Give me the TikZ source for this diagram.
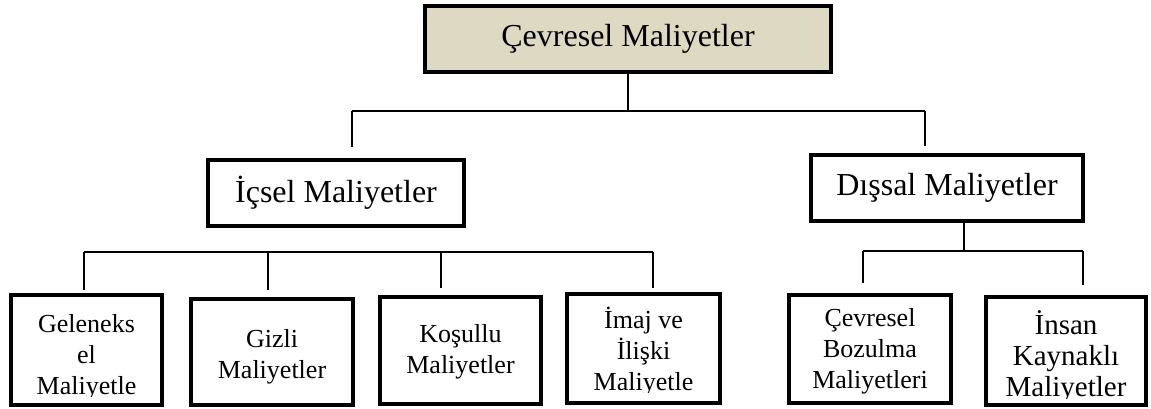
\documentclass[tikz,border=0pt]{standalone}
\usepackage{fontspec}
\setmainfont{Liberation Serif}
\newlength{\du}
\setlength{\du}{1pt}
\definecolor{boxtan}{RGB}{221,217,195}
\tikzset{
  costbox/.style={draw=black, line width=4\du, inner sep=0pt, align=center},
  costtext/.style={inner sep=0pt, align=center, font=\fontsize{26}{31}\selectfont},
  conn/.style={draw=black, line width=1.8\du},
}

\begin{document}
\begin{tikzpicture}
\pgftransformyscale{-1.000000}
\useasboundingbox (0\du,0\du) rectangle (1151\du,409\du);
% top level
\node[costbox, fill=boxtan, minimum width=406\du, minimum height=66\du, font=\fontsize{32}{38}\selectfont] (cevre) at (628\du,39\du){Çevresel Maliyetler};
\node[costbox, fill=white, minimum width=256\du, minimum height=66\du, font=\fontsize{32}{38}\selectfont] (icsel) at (336\du,193\du){İçsel Maliyetler};
\node[costbox, fill=white, minimum width=272\du, minimum height=66\du, font=\fontsize{32}{38}\selectfont] (dis) at (947\du,188\du){Dışsal Maliyetler};
% bottom frames
\node[costbox, minimum width=151\du, minimum height=110\du] (gel) at (86.5\du,350\du){};
\node[costbox, minimum width=162\du, minimum height=106\du] (giz) at (272\du,352\du){};
\node[costbox, minimum width=161\du, minimum height=107\du] (kos) at (460.5\du,350.5\du){};
\node[costbox, minimum width=153\du, minimum height=109\du] (imaj) at (643.5\du,348.5\du){};
\node[costbox, minimum width=162\du, minimum height=108\du] (bozul) at (870\du,349\du){};
\node[costbox, minimum width=160\du, minimum height=108\du] (insan) at (1066\du,351\du){};
% bottom texts
\begin{scope}
\clip (13\du,297\du) rectangle (160\du,396\du);
\node[costtext] (geltext) at (86.5\du,357\du){Geleneks\\el\\Maliyetle};
\end{scope}
\node[costtext] (giztext) at (272\du,357\du){Gizli\\Maliyetler};
\node[costtext] (kostext) at (460.5\du,352\du){Koşullu\\Maliyetler};
\begin{scope}
\clip (569\du,296\du) rectangle (718\du,392\du);
\node[costtext] (imajtext) at (643.5\du,351.5\du){İmaj ve\\İlişki\\Maliyetle};
\end{scope}
\node[costtext] (bozultext) at (870\du,351\du){Çevresel\\Bozulma\\Maliyetleri};
\begin{scope}
\clip (988\du,299\du) rectangle (1144\du,398\du);
\node[costtext, font=\fontsize{29}{31}\selectfont] (insantext) at (1066\du,357\du){İnsan\\Kaynaklı\\Maliyetler};
\end{scope}
% connectors, upper
\coordinate (topbar) at (628\du,111\du);
\coordinate (icselup) at (352\du,111\du);
\coordinate (disup) at (925\du,111\du);
\draw[conn] (cevre.south) -- (topbar);
\draw[conn] (icselup) -- (disup);
\draw[conn, shorten >=11\du] (icselup) -- (icselup |- icsel.north);
\draw[conn, shorten >=7\du] (disup) -- (disup |- dis.north);
% connectors, right group
\coordinate (disdown) at (964\du,251\du);
\coordinate (bozup) at (863\du,251\du);
\coordinate (insup) at (1083\du,251\du);
\draw[conn] (disdown |- dis.south) -- (disdown);
\draw[conn] (bozup) -- (insup);
\draw[conn, shorten >=10\du] (bozup) -- (bozup |- bozul.north);
\draw[conn, shorten >=10\du] (insup) -- (insup |- insan.north);
% connectors, left group
\coordinate (gelup) at (84\du,252\du);
\coordinate (gizup) at (268\du,252\du);
\coordinate (kosup) at (441\du,252\du);
\coordinate (imajup) at (653\du,252\du);
\draw[conn] (gelup) -- (imajup);
\draw[conn, shorten >=3\du] (gelup) -- (gelup |- gel.north);
\draw[conn, shorten >=7\du] (gizup) -- (gizup |- giz.north);
\draw[conn, shorten >=7\du] (kosup) -- (kosup |- kos.north);
\draw[conn, shorten >=4\du] (imajup) -- (imajup |- imaj.north);
\end{tikzpicture}
\end{document}
